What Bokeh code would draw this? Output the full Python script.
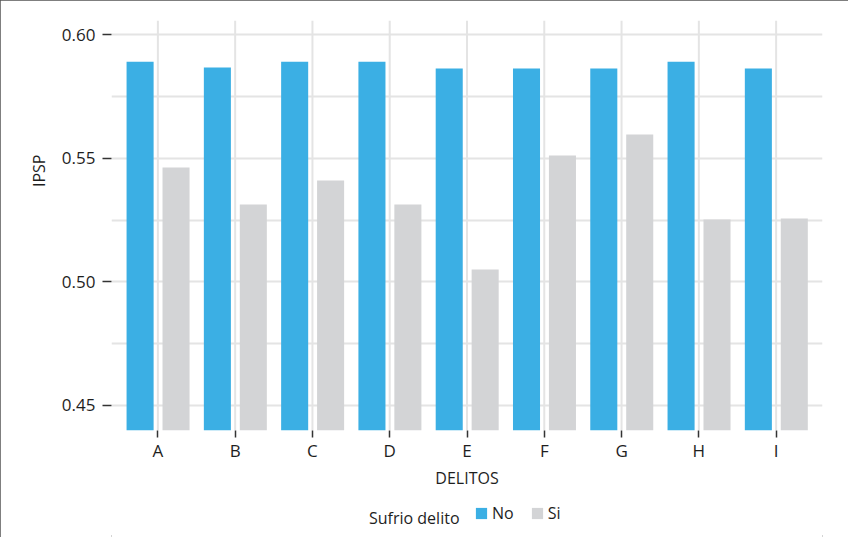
from bokeh.plotting import figure
from bokeh.models import (ColumnDataSource, FactorRange, Range1d, FixedTicker,
                          Legend, LegendItem, Title, Label)
from bokeh.transform import dodge
from bokeh.embed import file_html
from bokeh.resources import INLINE

# ---- data ----
categorias = ["A", "B", "C", "D", "E", "F", "G", "H", "I"]
ipsp_no = [0.589, 0.5867, 0.589, 0.589, 0.5863, 0.5863, 0.5863, 0.589, 0.5863]
ipsp_si = [0.5462, 0.5313, 0.541, 0.5313, 0.505, 0.5511, 0.5596, 0.5252, 0.5256]
y_ticks = [0.45, 0.50, 0.55, 0.60]
y_minor = [0.475, 0.525, 0.575]
y_labels = {0.45: "0.45", 0.50: "0.50", 0.55: "0.55", 0.60: "0.60"}
serie_nombres = ["No", "Si"]
leyenda_titulo = "Sufrio delito"

BLUE = "#3BAFE4"
GRAY = "#D3D4D6"
GRID = "#E4E4E4"
TXT = "#1e1e1e"
FONT = "Open Sans"
FS = "16px"
FS_TICK = "17px"

Y_BASE = 0.44           # bar baseline / x-axis position
Y_TOP = 0.6057
Y_LOW = 0.3966          # extra room under the axis for axis texts and legend

src = ColumnDataSource(dict(cat=categorias, no=ipsp_no, si=ipsp_si))

p = figure(width=848, height=537, output_backend="svg", toolbar_location=None,
           x_range=FactorRange(factors=categorias, range_padding=0.1,
                               range_padding_units="absolute"),
           y_range=Range1d(Y_LOW, Y_TOP),
           min_border_left=111, min_border_right=26,
           min_border_top=20, min_border_bottom=0)
p.styles = {"outline": "2px solid #555555", "outline-offset": "-2px"}
p.background_fill_color = "white"
p.border_fill_color = "white"
p.outline_line_color = None

# vertical grid lines at each category (limited to the plotting band)
p.segment(x0="cat", y0=Y_BASE, x1="cat", y1=Y_TOP, source=src,
          line_color=GRID, line_width=2)

r_no = p.vbar(x=dodge("cat", -0.23, range=p.x_range), top="no", bottom=Y_BASE,
              width=0.35, source=src, fill_color=BLUE, line_color=None)
r_si = p.vbar(x=dodge("cat", 0.235, range=p.x_range), top="si", bottom=Y_BASE,
              width=0.35, source=src, fill_color=GRAY, line_color=None)

# grids
p.xgrid.grid_line_color = None
p.ygrid.grid_line_color = GRID
p.ygrid.grid_line_width = 2
p.ygrid.minor_grid_line_color = GRID
p.ygrid.minor_grid_line_width = 2

# y axis
p.yaxis.ticker = FixedTicker(ticks=y_ticks, minor_ticks=y_minor)
p.yaxis.major_label_overrides = y_labels
p.yaxis.axis_line_color = None
p.yaxis.minor_tick_line_color = None
p.yaxis.major_tick_line_color = "#333333"
p.yaxis.major_tick_line_width = 1.5
p.yaxis.major_tick_out = 9
p.yaxis.major_tick_in = 0
p.yaxis.major_label_standoff = 7

# x axis, pinned at the bar baseline
p.xaxis.fixed_location = Y_BASE
p.xaxis.axis_line_color = None
p.xaxis.major_tick_line_color = "#333333"
p.xaxis.major_tick_line_width = 1.5
p.xaxis.major_tick_out = 7
p.xaxis.major_tick_in = 0
p.xaxis.major_label_standoff = 2
p.xaxis.axis_label = "DELITOS"
p.xaxis.axis_label_standoff = 1
p.xaxis.axis_label_text_font_style = "normal"

for ax in (p.xaxis[0], p.yaxis[0]):
    ax.major_label_text_font = FONT
    ax.major_label_text_font_size = FS_TICK
    ax.major_label_text_color = TXT
    ax.axis_label_text_font = FONT
    ax.axis_label_text_font_size = FS
    ax.axis_label_text_color = TXT

# y-axis title (off-centre, as in the reference)
p.add_layout(Title(text="IPSP", align="right", offset=134, standoff=17,
                   text_font=FONT, text_font_size=FS, text_font_style="normal",
                   text_color=TXT), "left")

# legend title
p.add_layout(Label(x=348, y=20, x_units="screen", y_units="screen",
                   text=leyenda_titulo, text_align="right", text_baseline="middle",
                   text_font=FONT, text_font_size=FS, text_color=TXT))

legend = Legend(items=[LegendItem(label=serie_nombres[0], renderers=[r_no]),
                       LegendItem(label=serie_nombres[1], renderers=[r_si])],
                location=(363, 13), orientation="horizontal",
                padding=0, margin=0, spacing=16, label_standoff=4,
                glyph_width=14, glyph_height=14, label_height=14, label_width=0,
                border_line_color=None, background_fill_alpha=0,
                label_text_font=FONT, label_text_font_size=FS,
                label_text_color=TXT, label_text_baseline="middle")
p.add_layout(legend, "center")

open("out.html", "w").write(file_html(p, INLINE))
